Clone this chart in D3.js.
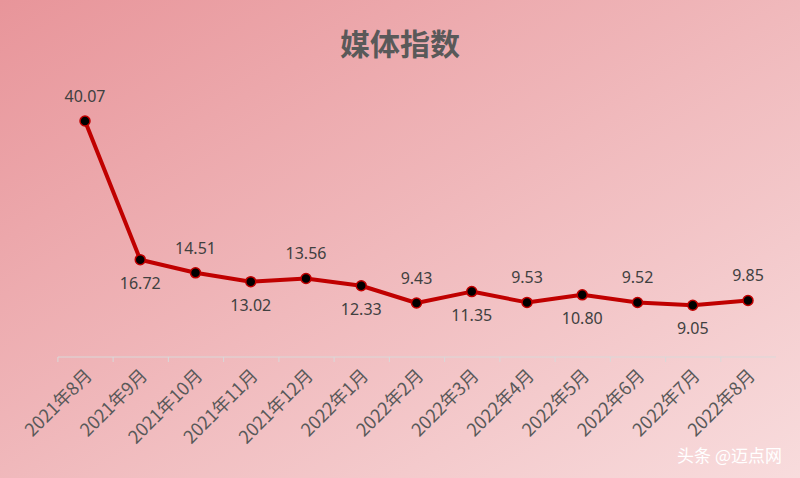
<!DOCTYPE html>
<html><head><meta charset="utf-8">
<script src="https://cdn.jsdelivr.net/npm/d3@7/dist/d3.min.js"></script>
<style>body{margin:0}svg{display:block}</style></head>
<body><svg id="c" width="800" height="478"></svg>
<script>
const categories=["2021年8月","2021年9月","2021年10月","2021年11月","2021年12月","2022年1月","2022年2月","2022年3月","2022年4月","2022年5月","2022年6月","2022年7月","2022年8月"];
const values=[40.07,16.72,14.51,13.02,13.56,12.33,9.43,11.35,9.53,10.80,9.52,9.05,9.85];
const labelPos=["above","below","above","below","above","below","above","below","above","below","above","below","above"];
const svg=d3.select("#c");
const defs=svg.append("defs");
const g=defs.append("linearGradient").attr("id","bg").attr("x1","0").attr("y1","0").attr("x2","1").attr("y2","1");
g.append("stop").attr("offset","0").attr("stop-color","#e8959a");
g.append("stop").attr("offset","1").attr("stop-color","#f8dcdd");
svg.append("rect").attr("width",800).attr("height",478).attr("fill","url(#bg)");
svg.append("text").attr("x",400).attr("y",55).attr("text-anchor","middle").attr("font-family","Noto Sans CJK SC").attr("font-weight","bold").attr("font-size",30).attr("fill","#595959").text("媒体指数");
const x=d3.scalePoint().domain(categories).range([85,748]).padding(0);
const y=d3.scaleLinear().domain([0,40.07]).range([359,121]);
const axis=svg.append("g").attr("transform","translate(0,357)").call(d3.axisBottom(x).tickSize(5).tickSizeOuter(0));
axis.select(".domain").attr("stroke","#d9d9d9").attr("d","M58,0H776");
axis.selectAll(".tick line").attr("stroke","#d9d9d9").attr("transform",`translate(${-(x.step()/2)},0)`);
axis.selectAll(".tick text").attr("font-family","Noto Sans CJK SC").attr("font-size",18).attr("fill","#595959")
 .attr("text-anchor","end").attr("transform","translate(-8,4) rotate(-45)").attr("dy","0.8em");
const line=d3.line().x((d,i)=>x(categories[i])).y(d=>y(d));
svg.append("path").datum(values).attr("d",line).attr("fill","none").attr("stroke","#c00000").attr("stroke-width",4).attr("stroke-linejoin","round");
svg.selectAll("circle.p").data(values).enter().append("circle").attr("cx",(d,i)=>x(categories[i])).attr("cy",d=>y(d)).attr("r",5).attr("fill","#000").attr("stroke","#c00000").attr("stroke-width",1.5);
svg.selectAll("text.l").data(values).enter().append("text").attr("x",(d,i)=>x(categories[i])).attr("y",(d,i)=>y(d)+(labelPos[i]=="above"?-19:29)).attr("text-anchor","middle").attr("font-family","Noto Sans").attr("font-size",16).attr("fill","#404040").text(d=>d.toFixed(2));
svg.append("text").attr("x",782).attr("y",462).attr("text-anchor","end").attr("font-family","Noto Sans CJK SC").attr("font-size",17).attr("fill","#fff").text("头条 @迈点网");
</script></body></html>
